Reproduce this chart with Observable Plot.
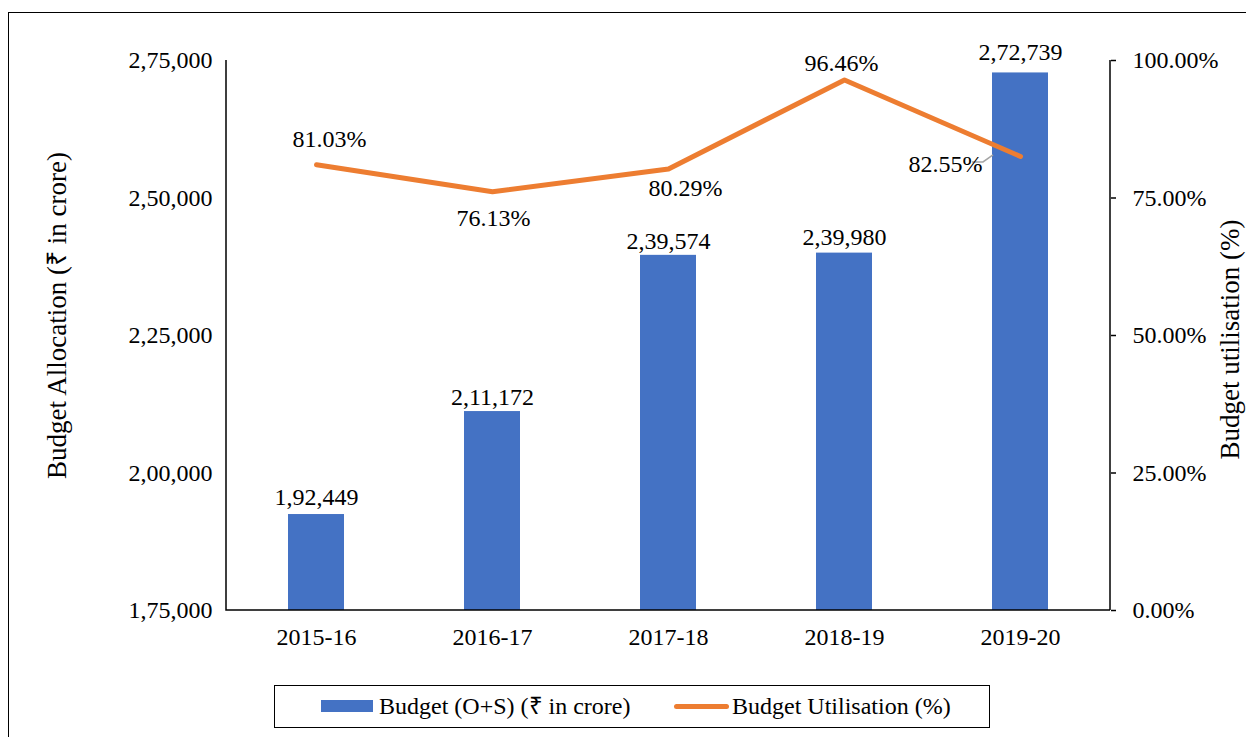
<!DOCTYPE html>
<html>
<head>
<meta charset="utf-8">
<script src="https://cdn.jsdelivr.net/npm/d3@7"></script>
<script src="https://cdn.jsdelivr.net/npm/@observablehq/plot@0.6"></script>
<style>
html, body { margin: 0; padding: 0; background: #fff; overflow: hidden; width: 1246px; height: 737px; }
#wrap { position: relative; width: 1246px; height: 737px; font-family: "Liberation Serif", "Times New Roman", serif; color: #000; }
#border { position: absolute; left: 8px; top: 12px; width: 1300px; height: 800px; border: 1.5px solid #000; box-sizing: border-box; pointer-events: none; }
#chart svg { display: block; }
#legend { position: absolute; left: 274px; top: 685px; width: 716px; height: 43px; border: 1.5px solid #000; box-sizing: border-box; font-size: 24px; background: #fff; }
#legend .sw1 { position: absolute; left: 46px; top: 14px; width: 52px; height: 12px; background: #4472C4; }
#legend .sw2 { position: absolute; left: 399px; top: 18px; width: 55px; height: 5px; border-radius: 3px; background: #ED7D31; }
#legend .t { position: absolute; top: 0; height: 40px; line-height: 40px; white-space: nowrap; }
</style>
</head>
<body>
<div id="wrap">
  <div id="chart"></div>
  <div id="legend">
    <div class="sw1"></div><div class="t" style="left:104px">Budget (O+S) (₹ in crore)</div>
    <div class="sw2"></div><div class="t" style="left:457px">Budget Utilisation (%)</div>
  </div>
  <div id="border"></div>
</div>
<script>
// ---- data ----
const years = ["2015-16", "2016-17", "2017-18", "2018-19", "2019-20"];
const budget = [192449, 211172, 239574, 239980, 272739];
const utilisation = [81.03, 76.13, 80.29, 96.46, 82.55];
const leftTicks = [175000, 200000, 225000, 250000, 275000];
const rightTicks = [0, 25, 50, 75, 100];
const leftTitle = "Budget Allocation (₹ in crore)";
const rightTitle = "Budget utilisation (%)";

// ---- layout (label offsets in px) ----
const budgetLabelDy = [-17, -14, -14, -16, -21];
const utilLabelOffsets = [[13, -26], [1, 27], [17, 19], [-3, -17], [-75, 8]];
const FONT = '"Liberation Serif", "Times New Roman", serif';

// helpers
const yMin = 175000, yMax = 275000;
const pctToY = p => yMin + p / 100 * (yMax - yMin);
const yToPct = v => (v - yMin) / (yMax - yMin) * 100;
function inr(n) {
  const s = String(Math.round(n));
  if (s.length <= 3) return s;
  const last3 = s.slice(-3);
  const rest = s.slice(0, -3).replace(/\B(?=(\d{2})+(?!\d))/g, ",");
  return rest + "," + last3;
}
const rows = years.map((year, i) => ({year, budget: budget[i], util: utilisation[i]}));

// axis domain lines
function domainLines(index, scales, values, dimensions) {
  const {width, height, marginLeft, marginRight, marginTop, marginBottom} = dimensions;
  const g = d3.create("svg:g").attr("stroke", "#000").attr("stroke-width", 1.5).attr("fill", "none");
  const xl = marginLeft, xr = width - marginRight, yt = marginTop, yb = height - marginBottom;
  g.append("path").attr("d", `M${xl},${yt}V${yb}H${xr}`);
  g.append("path").attr("d", `M${xr},${yt}V${yb}`);
  return g.node();
}

const chart = Plot.plot({
  width: 1246,
  height: 670,
  marginLeft: 226,
  marginRight: 136,
  marginTop: 60,
  marginBottom: 60,
  style: {fontFamily: FONT, fontSize: "24px", color: "#000", background: "#fff", overflow: "visible"},
  x: {domain: years, paddingInner: 0.683, paddingOuter: 0.3415},
  y: {domain: [yMin, yMax]},
  marks: [
    Plot.barY(rows, {x: "year", y1: yMin, y2: "budget", fill: "#4472C4"}),
    ...rows.map((r, i) => Plot.text([r], {x: "year", y: "budget", text: d => inr(d.budget), lineAnchor: "middle",
      dy: budgetLabelDy[i], fill: "#000", fontFamily: FONT, fontSize: 24})),
    Plot.line(rows, {x: "year", y: d => pctToY(d.util), stroke: "#ED7D31", strokeWidth: 5, strokeLinecap: "round", strokeLinejoin: "round"}),
    Plot.dot(rows.slice(-1), {
      x: "year", y: d => pctToY(d.util),
      render: (index, scales, values) => {
        const x0 = values.x[index[0]], y0 = values.y[index[0]];
        return d3.create("svg:path")
          .attr("d", `M${x0 - 20},${y0 + 6}L${x0 - 9},${y0 + 6}L${x0 + 1},${y0 - 1}`)
          .attr("fill", "none").attr("stroke", "#A5A5A5").attr("stroke-width", 1.5).node();
      }
    }),
    ...rows.map((r, i) => Plot.text([r], {
      x: "year", y: d => pctToY(d.util), text: d => d.util.toFixed(2) + "%",
      lineAnchor: "middle", dx: utilLabelOffsets[i][0], dy: utilLabelOffsets[i][1], fill: "#000",
      fontFamily: FONT, fontSize: 24
    })),
    domainLines,
    Plot.axisY(leftTicks, {anchor: "left", tickSize: 0, tickPadding: 14, tickFormat: inr, label: null, fontFamily: FONT}),
    Plot.axisY(rightTicks.map(pctToY), {anchor: "right", tickSize: 5, tickPadding: 17, strokeWidth: 1.5,
      tickFormat: v => yToPct(v).toFixed(2) + "%", label: null, fontFamily: FONT}),
    Plot.axisX({anchor: "bottom", tickSize: 0, tickPadding: 17, label: null, fontFamily: FONT}),
    Plot.text([leftTitle], {frameAnchor: "left", text: d => d, rotate: -90, textAnchor: "middle", lineAnchor: "middle",
      dx: -169, dy: -20, fill: "#000", fontFamily: FONT, fontSize: 27}),
    Plot.text([rightTitle], {frameAnchor: "right", text: d => d, rotate: -90, textAnchor: "middle", lineAnchor: "middle",
      dx: 120, dy: 4, fill: "#000", fontFamily: FONT, fontSize: 27})
  ]
});
document.getElementById("chart").appendChild(chart);
</script>
</body>
</html>
